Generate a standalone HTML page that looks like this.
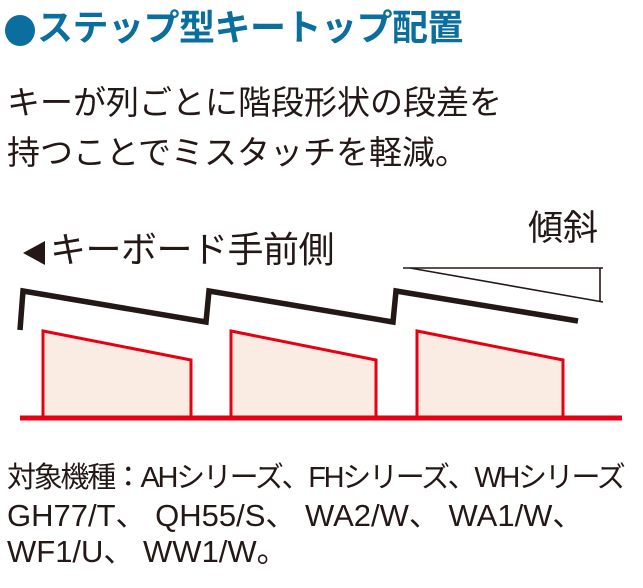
<!DOCTYPE html>
<html><head><meta charset="utf-8"><style>
body{margin:0;width:643px;height:588px;background:#fff;position:relative;overflow:hidden;font-family:"Liberation Sans","Noto Sans CJK JP",sans-serif;color:#231815}
.t{position:absolute;white-space:nowrap;line-height:1}
</style></head><body>
<div style="position:absolute;left:5px;top:15px;width:30px;height:31px;border-radius:50%;background:#0a6e9e"></div>
<div class="t" style="left:37px;top:10px;font-size:36px;font-weight:bold;color:#0a6e9e;letter-spacing:-0.5px">ステップ型キートップ配置</div>
<div class="t" style="left:7px;top:86px;font-size:33px">キーが列ごとに階段形状の段差を</div>
<div class="t" style="left:7px;top:136px;font-size:33px">持つことでミスタッチを軽減。</div>
<div class="t" style="left:528px;top:211px;font-size:35px">傾斜</div>
<div class="t" style="left:50px;top:232px;font-size:36px;letter-spacing:-0.5px">キーボード手前側</div>
<svg width="643" height="588" style="position:absolute;left:0;top:0">
<polygon points="23,253 45,241 45,265" fill="#231815"/>
<g fill="#fbece3" stroke="#e60012" stroke-width="3">
<polygon points="43,418 43,331 191,360 191,418"/>
<polygon points="231,418 231,331 376,360 376,418"/>
<polygon points="417,418 417,331 563,360 563,418"/>
</g>
<line x1="20" y1="418" x2="622" y2="418" stroke="#e60012" stroke-width="5"/>
<polyline points="20,330 23,291 206,322 209,291 393,322 396,291 578,321" fill="none" stroke="#231815" stroke-width="5.5"/>
<g stroke="#231815" stroke-width="1.6" fill="none">
<line x1="403" y1="268" x2="603" y2="268"/>
<line x1="600" y1="268" x2="600" y2="302"/>
<line x1="410" y1="268" x2="603" y2="302"/>
</g>
</svg>
<div class="t" style="left:7px;top:464px;font-size:29px;letter-spacing:-2.3px">対象機種：AHシリーズ、FHシリーズ、WHシリーズ</div>
<div class="t" style="left:7px;top:500px;font-size:31px">GH77/T、 QH55/S、 WA2/W、 WA1/W、</div>
<div class="t" style="left:7px;top:536px;font-size:31px">WF1/U、 WW1/W。</div>
</body></html>
